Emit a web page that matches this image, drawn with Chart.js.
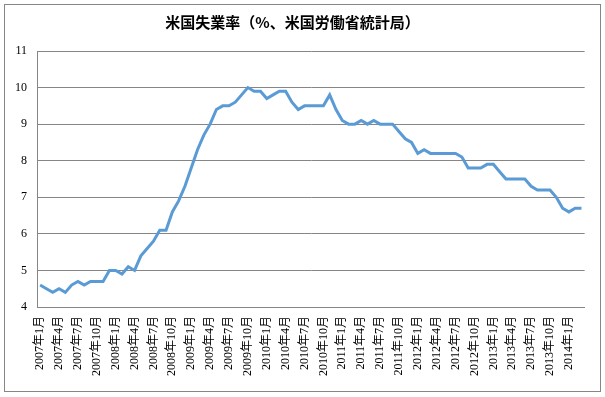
<!DOCTYPE html>
<html>
<head>
<meta charset="utf-8">
<script src="https://cdn.jsdelivr.net/npm/chart.js@4/dist/chart.umd.min.js"></script>
<style>
  html, body { margin: 0; padding: 0; background: #fff; }
  #wrap { position: relative; width: 605px; height: 397px; }
</style>
</head>
<body>
<div id="wrap"><canvas id="chart" width="605" height="397"></canvas></div>
<script>
// 月次の失業率（2007年1月〜2014年3月）
const years = [2007, 2008, 2009, 2010, 2011, 2012, 2013, 2014];
const rate2007 = [4.6, 4.5, 4.4, 4.5, 4.4, 4.6, 4.7, 4.6, 4.7, 4.7, 4.7, 5.0];
const rate2008 = [5.0, 4.9, 5.1, 5.0, 5.4, 5.6, 5.8, 6.1, 6.1, 6.6, 6.9, 7.3];
const rate2009 = [7.8, 8.3, 8.7, 9.0, 9.4, 9.5, 9.5, 9.6, 9.8, 10.0, 9.9, 9.9];
const rate2010 = [9.7, 9.8, 9.9, 9.9, 9.6, 9.4, 9.5, 9.5, 9.5, 9.5, 9.8, 9.4];
const rate2011 = [9.1, 9.0, 9.0, 9.1, 9.0, 9.1, 9.0, 9.0, 9.0, 8.8, 8.6, 8.5];
const rate2012 = [8.2, 8.3, 8.2, 8.2, 8.2, 8.2, 8.2, 8.1, 7.8, 7.8, 7.8, 7.9];
const rate2013 = [7.9, 7.7, 7.5, 7.5, 7.5, 7.5, 7.3, 7.2, 7.2, 7.2, 7.0, 6.7];
const rate2014 = [6.6, 6.7, 6.7];

const rates = [rate2007, rate2008, rate2009, rate2010, rate2011, rate2012, rate2013, rate2014];
const labels = [];
const values = [];
rates.forEach((arr, yi) => {
  arr.forEach((v, mi) => {
    labels.push(`${years[yi]}年${mi + 1}月`);
    values.push(v);
  });
});

const GRID = '#868686';
const SERIF = "'Liberation Serif', 'Noto Sans CJK JP', serif";

const frame = {
  id: 'frame',
  afterDraw(chart) {
    const { ctx } = chart;
    ctx.save();
    ctx.strokeStyle = GRID;
    ctx.lineWidth = 1;
    ctx.strokeRect(4.5, 4.5, 596, 387);
    ctx.restore();
  },
};

Chart.defaults.color = '#000';

new Chart(document.getElementById('chart'), {
  type: 'line',
  data: {
    labels,
    datasets: [{
      data: values,
      borderColor: '#5B9BD5',
      borderWidth: 3,
      pointRadius: 0,
      tension: 0,
      fill: false,
    }],
  },
  options: {
    responsive: false,
    animation: false,
    layout: { padding: { left: 0, right: 20, top: 0, bottom: 0 } },
    plugins: {
      legend: { display: false },
      tooltip: { enabled: false },
      title: {
        display: true,
        text: '米国失業率（%、米国労働省統計局）',
        color: '#000',
        font: { family: "'Noto Sans CJK JP', sans-serif", size: 15, weight: 'bold', lineHeight: 1.2 },
        padding: { top: 13, bottom: 20 },
      },
    },
    scales: {
      x: {
        offset: true,
        grid: { display: false, drawTicks: false },
        border: { display: true, color: GRID },
        afterFit: (scale) => { scale.height = 90; },
        ticks: {
          autoSkip: false,
          maxRotation: 90,
          minRotation: 90,
          padding: 9,
          font: { family: SERIF, size: 12 },
          callback: (val, idx) => (idx % 3 === 0 ? labels[idx] : ''),
        },
      },
      y: {
        min: 4,
        max: 11,
        grid: { color: GRID, drawTicks: false },
        border: { display: true, color: GRID },
        afterFit: (scale) => { scale.width = 37; },
        ticks: {
          stepSize: 1,
          padding: 10,
          font: { family: SERIF, size: 12 },
        },
      },
    },
  },
  plugins: [frame],
});
</script>
</body>
</html>
